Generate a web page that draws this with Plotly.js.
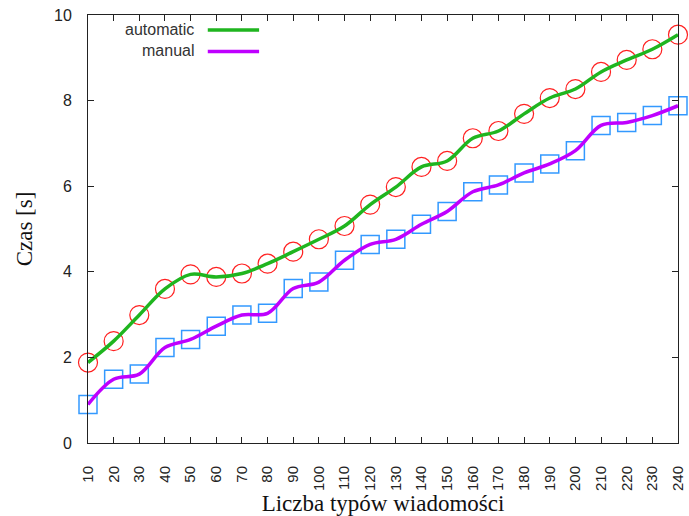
<!DOCTYPE html>
<html>
<head>
<meta charset="utf-8">
<script src="https://cdn.plot.ly/plotly-3.0.1.min.js"></script>
<style>html,body{margin:0;padding:0;background:#fff;}#chart{width:689px;height:516px;}</style>
</head>
<body>
<div id="chart"></div>
<script>
const categories = [10,20,30,40,50,60,70,80,90,100,110,120,130,140,150,160,170,180,190,200,210,220,230,240];
const automatic = [1.88,2.38,2.99,3.60,3.94,3.88,3.96,4.19,4.47,4.76,5.07,5.57,5.98,6.45,6.59,7.12,7.29,7.69,8.06,8.27,8.67,8.95,9.20,9.54];
const manual = [0.90,1.49,1.61,2.23,2.42,2.73,2.99,3.03,3.61,3.76,4.27,4.64,4.76,5.11,5.41,5.87,6.03,6.31,6.52,6.83,7.42,7.49,7.65,7.88];
const seriesNames = ['automatic','manual'];
const yTicks = [0,2,4,6,8,10];
const xTitle = 'Liczba typów wiadomości';
const yTitle = 'Czas [s]';

const green = '#1fb51f';
const purple = '#bf00ff';

const traces = [
  {x: categories, y: automatic, mode: 'markers', showlegend: false, cliponaxis: false,
   marker: {symbol: 'circle-open', size: 19, color: '#ff2020', line: {width: 1.2, color: '#ff2020'}}},
  {x: categories, y: manual, mode: 'markers', showlegend: false, cliponaxis: false,
   marker: {symbol: 'square-open', size: 18, color: '#3399ff', line: {width: 1.5, color: '#3399ff'}}},
  {x: categories, y: automatic, mode: 'lines', name: seriesNames[0], showlegend: false,
   line: {color: green, width: 3.5, shape: 'spline', smoothing: 1}},
  {x: categories, y: manual, mode: 'lines', name: seriesNames[1], showlegend: false,
   line: {color: purple, width: 3.5, shape: 'spline', smoothing: 1}}
];

const layout = {
  width: 689, height: 516,
  margin: {l: 88, r: 11, t: 15, b: 73},
  paper_bgcolor: '#fff', plot_bgcolor: '#fff',
  showlegend: false,
  font: {family: 'Liberation Sans, Arial, sans-serif', color: '#222', size: 16},
  xaxis: {
    range: [10, 240], tickvals: categories, ticktext: categories.map(String),
    tickangle: -90, ticks: 'inside', ticklen: 6, tickcolor: '#222', mirror: 'ticks',
    showline: true, linecolor: '#222', linewidth: 1, showgrid: false, zeroline: false,
    tickfont: {size: 15}, ticklabelstandoff: 16,
    title: {text: xTitle, font: {family: 'Liberation Serif, Times New Roman, serif', size: 23, color: '#111'}, standoff: 0}
  },
  yaxis: {
    range: [0, 10], tickvals: yTicks, ticks: 'inside', ticklen: 6, tickcolor: '#222', mirror: 'ticks',
    showline: true, linecolor: '#222', linewidth: 1, showgrid: false, zeroline: false,
    tickfont: {size: 16}, ticklabelstandoff: 12,
    title: {text: yTitle, font: {family: 'Liberation Serif, Times New Roman, serif', size: 23, color: '#111'}, standoff: 14}
  },
  annotations: [
    {xref: 'paper', yref: 'paper', x: 0.183, y: 0.967, xanchor: 'right', yanchor: 'middle', showarrow: false,
     text: seriesNames[0], font: {size: 16, color: '#333'}},
    {xref: 'paper', yref: 'paper', x: 0.183, y: 0.917, xanchor: 'right', yanchor: 'middle', showarrow: false,
     text: seriesNames[1], font: {size: 16, color: '#333'}}
  ],
  shapes: [
    {type: 'line', xref: 'paper', yref: 'paper', x0: 0.203, x1: 0.290, y0: 0.965, y1: 0.965, line: {color: green, width: 3.5}},
    {type: 'line', xref: 'paper', yref: 'paper', x0: 0.203, x1: 0.290, y0: 0.915, y1: 0.915, line: {color: purple, width: 3.5}}
  ]
};

Plotly.newPlot('chart', traces, layout, {displayModeBar: false, staticPlot: true});
</script>
</body>
</html>
